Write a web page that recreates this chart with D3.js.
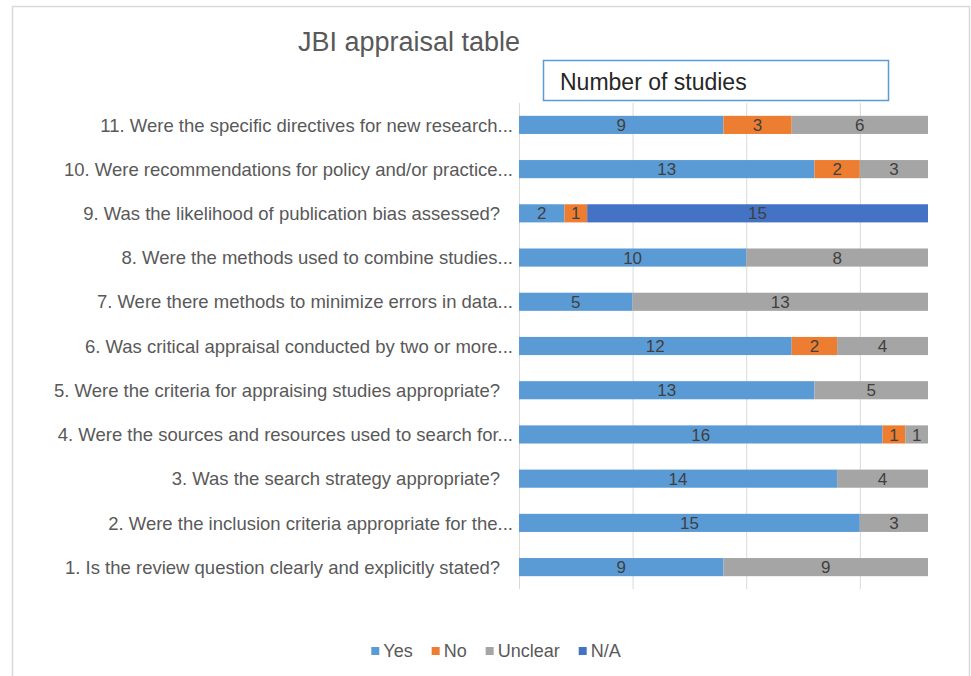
<!DOCTYPE html>
<html>
  <head>
    <meta charset="utf-8">
    <title>JBI appraisal table</title>
    <script src="https://cdn.jsdelivr.net/npm/d3@7"></script>
    <style>
      body { margin: 0; background: #fff; }
      svg { display: block; font-family: "Liberation Sans", Arial, sans-serif; }
    </style>
  </head>
  <body>
    <div id="chart"></div>

    <script>
      // questions, top to bottom as in the chart
      const questions = [
        "11. Were the specific directives for new research...",
        "10. Were recommendations for policy and/or practice...",
        "9. Was the likelihood of publication bias assessed?",
        "8. Were the methods used to combine studies...",
        "7. Were there methods to minimize errors in data...",
        "6. Was critical appraisal conducted by two or more...",
        "5. Were the criteria for appraising studies appropriate?",
        "4. Were the sources and resources used to search for...",
        "3. Was the search strategy appropriate?",
        "2. Were the inclusion criteria appropriate for the...",
        "1. Is the review question clearly and explicitly stated?"
      ];
      const seriesNames = ["Yes", "No", "Unclear", "N/A"];
      const yes     = [9, 13, 2, 10, 5, 12, 13, 16, 14, 15, 9];
      const no      = [3, 2, 1, 0, 0, 2, 0, 1, 0, 0, 0];
      const unclear = [6, 3, 0, 8, 13, 4, 5, 1, 4, 3, 9];
      const na      = [0, 0, 15, 0, 0, 0, 0, 0, 0, 0, 0];
      const xTicks  = [0, 5, 10, 15];

      const colours = ["#5B9BD5", "#ED7D31", "#A5A5A5", "#4472C4"];

      const width = 971, height = 676;
      const svg = d3.select("#chart")
        .append("svg")
          .attr("width", width)
          .attr("height", height);

      // outer chart frame
      svg.append("rect")
        .attr("x", 12.5).attr("y", 6.5)
        .attr("width", 957).attr("height", 690)
        .attr("fill", "none")
        .attr("stroke", "#d9d9d9")
        .attr("stroke-width", 1.5);

      // build rows for stacking
      const rows = questions.map(function(q, i) {
        return { q: q, "Yes": yes[i], "No": no[i], "Unclear": unclear[i], "N/A": na[i] };
      });
      const stacked = d3.stack().keys(seriesNames)(rows);

      const x = d3.scaleLinear()
        .domain([0, 18])
        .range([519, 928]);
      const y = d3.scaleBand()
        .domain(questions)
        .range([103, 589])
        .paddingInner(0.59)
        .paddingOuter(0.29);
      const colour = d3.scaleOrdinal()
        .domain(seriesNames)
        .range(colours);

      // gridlines
      svg.append("g")
        .selectAll("line")
          .data(xTicks)
        .enter().append("line")
          .attr("x1", function(d) { return x(d) + 0.5; })
          .attr("x2", function(d) { return x(d) + 0.5; })
          .attr("y1", 103)
          .attr("y2", 589)
          .attr("stroke", "#d9d9d9")
          .attr("stroke-width", 1);

      // bars
      const layers = svg.append("g")
        .selectAll("g")
          .data(stacked)
        .enter().append("g")
          .attr("fill", function(d) { return colour(d.key); });

      layers.selectAll("rect")
          .data(function(d) { return d; })
        .enter().append("rect")
          .attr("x", function(d) { return x(d[0]); })
          .attr("y", function(d) { return y(d.data.q); })
          .attr("width", function(d) { return x(d[1]) - x(d[0]); })
          .attr("height", y.bandwidth());

      // data labels
      layers.selectAll("text")
          .data(function(d) { return d.filter(function(s) { return s[1] - s[0] > 0; }); })
        .enter().append("text")
          .attr("x", function(d) { return (x(d[0]) + x(d[1])) / 2; })
          .attr("y", function(d) { return y(d.data.q) + y.bandwidth() / 2; })
          .attr("dy", "0.36em")
          .attr("text-anchor", "middle")
          .attr("fill", "#404040")
          .style("font-size", "17px")
          .text(function(d) { return d[1] - d[0]; });

      // category labels
      svg.append("g")
        .selectAll("text")
          .data(questions)
        .enter().append("text")
          .attr("x", function(d) { return d.endsWith("...") ? 513 : 500; })
          .attr("y", function(d) { return y(d) + y.bandwidth() / 2; })
          .attr("dy", "0.36em")
          .attr("text-anchor", "end")
          .attr("fill", "#595959")
          .style("font-size", "18.5px")
          .text(function(d) { return d; });

      // title
      svg.append("text")
        .attr("x", 298)
        .attr("y", 51)
        .attr("fill", "#595959")
        .style("font-size", "27px")
        .text("JBI appraisal table");

      // axis title box
      svg.append("rect")
        .attr("x", 543.5).attr("y", 60.5)
        .attr("width", 345).attr("height", 40)
        .attr("fill", "#fff")
        .attr("stroke", "#5B9BD5")
        .attr("stroke-width", 1.5);
      svg.append("text")
        .attr("x", 560)
        .attr("y", 90)
        .attr("fill", "#262626")
        .style("font-size", "23px")
        .text("Number of studies");

      // legend, laid out by text width and centred
      const legend = svg.append("g");
      const items = legend.selectAll("g")
          .data(seriesNames)
        .enter().append("g");
      items.append("rect")
        .attr("x", 0).attr("y", -4)
        .attr("width", 8).attr("height", 8)
        .attr("fill", function(d) { return colour(d); });
      items.append("text")
        .attr("x", 12)
        .attr("dy", "0.36em")
        .attr("fill", "#595959")
        .style("font-size", "18px")
        .text(function(d) { return d; });
      let cursor = 0;
      items.each(function() {
        const g = d3.select(this);
        g.attr("transform", "translate(" + cursor + ",0)");
        cursor += 12 + g.select("text").node().getComputedTextLength() + 19;
      });
      cursor -= 19;
      legend.attr("transform", "translate(" + (496 - cursor / 2) + ",651)");
    </script>
  </body>
</html>
